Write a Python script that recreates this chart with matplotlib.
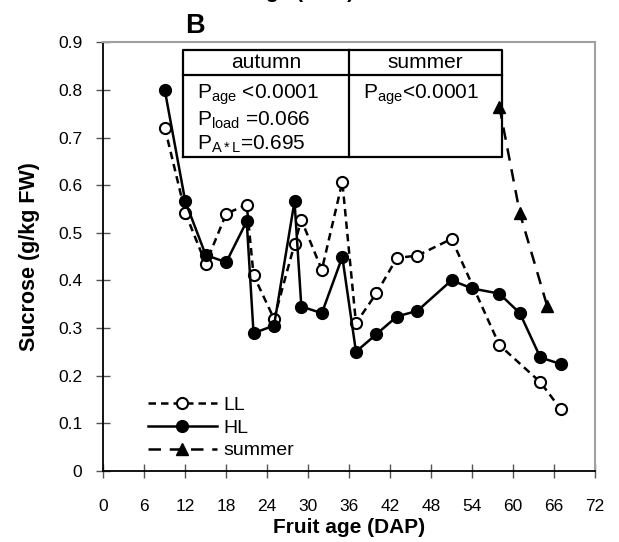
import matplotlib
matplotlib.use("Agg")
import matplotlib.pyplot as plt
from matplotlib.lines import Line2D

plt.rcParams['font.family'] = ['Liberation Sans', 'DejaVu Sans']
plt.rcParams['mathtext.fontset'] = 'custom'
plt.rcParams['mathtext.rm'] = 'Liberation Sans'
plt.rcParams['mathtext.it'] = 'Liberation Sans:italic'
plt.rcParams['mathtext.bf'] = 'Liberation Sans:bold'

# Data
ll_x = [9, 12, 15, 18, 21, 22, 25, 28, 29, 32, 35, 37, 40, 43, 46, 51, 58, 64, 67]
ll_y = [0.721, 0.542, 0.435, 0.540, 0.559, 0.411, 0.319, 0.476, 0.527, 0.422, 0.607,
        0.310, 0.373, 0.447, 0.452, 0.487, 0.264, 0.186, 0.129]
hl_x = [9, 12, 15, 18, 21, 22, 25, 28, 29, 32, 35, 37, 40, 43, 46, 51, 54, 58, 61, 64, 67]
hl_y = [0.800, 0.566, 0.453, 0.438, 0.524, 0.289, 0.305, 0.566, 0.345, 0.331, 0.449,
        0.250, 0.287, 0.324, 0.336, 0.400, 0.383, 0.372, 0.331, 0.238, 0.224]
su_x = [58, 61, 65]
su_y = [0.765, 0.541, 0.346]

x_ticks = list(range(0, 73, 6))
y_ticks = [0, 0.1, 0.2, 0.3, 0.4, 0.5, 0.6, 0.7, 0.8, 0.9]
y_tick_labels = ['0', '0.1', '0.2', '0.3', '0.4', '0.5', '0.6', '0.7', '0.8', '0.9']

fig = plt.figure(figsize=(6.19, 5.42), dpi=100)
ax = fig.add_axes([0.1669, 0.1315, 0.7943, 0.7904])

ax.plot(ll_x, ll_y, linestyle=(0, (3, 2)), color='black', lw=1.8, marker='o',
        markersize=8, markerfacecolor='white', markeredgecolor='black', markeredgewidth=1.5,
        label='LL', zorder=3)
ax.plot(hl_x, hl_y, linestyle='-', color='black', lw=1.8, marker='o',
        markersize=8.5, markerfacecolor='black', markeredgecolor='black',
        label='HL', zorder=4)
ax.plot(su_x, su_y, linestyle=(0, (5, 3.5)), color='black', lw=1.8, marker='^',
        markersize=8.5, markerfacecolor='black', markeredgecolor='black',
        label='summer', zorder=3)

ax.set_xlim(0, 72)
ax.set_ylim(0, 0.9)
ax.set_xticks(x_ticks)
ax.set_xticklabels([str(t) for t in x_ticks])
ax.set_yticks(y_ticks)
ax.set_yticklabels(y_tick_labels)
ax.tick_params(axis='both', direction='inout', length=10, width=1, colors='#555555',
               labelcolor='black', labelsize=12.5)
ax.tick_params(axis='x', pad=15)
ax.tick_params(axis='y', pad=10)

for s in ['top', 'right']:
    ax.spines[s].set_color('#a0a0a0')
    ax.spines[s].set_linewidth(1.5)
for s in ['left', 'bottom']:
    ax.spines[s].set_color('black')
    ax.spines[s].set_linewidth(1.3)

ax.set_xlabel('Fruit age (DAP)', fontsize=15, fontweight='bold', labelpad=3)
ax.set_ylabel('Sucrose (g/kg FW)', fontsize=15.5, fontweight='bold', labelpad=13)

# Panel letter
fig.text(185 / 619, 1 - 33 / 542, 'B', fontsize=19.5, fontweight='bold', ha='left', va='baseline')
# Cut-off label from previous panel (only its lowest part is visible)
fig.text(278 / 619, 1 + 2.5 / 542, 'Fruit age (DAP)', fontsize=15, fontweight='bold',
         ha='center', va='baseline')

# Statistics table
tr = ax.transAxes
x0, xm, x1 = 0.1615, 0.4993, 0.8111
y0, yh, y1 = 0.733, 0.9237, 0.982
lk = dict(color='black', lw=1.6, transform=tr, clip_on=False, zorder=5)
ax.add_line(Line2D([x0, x1, x1, x0, x0], [y0, y0, y1, y1, y0], **lk))
ax.add_line(Line2D([x0, x1], [yh, yh], **lk))
ax.add_line(Line2D([xm, xm], [y0, y1], **lk))
fs = 15
ax.text((x0 + xm) / 2, (yh + y1) / 2, 'autumn', transform=tr, ha='center', va='center', fontsize=fs)
ax.text((xm + x1) / 2, (yh + y1) / 2, 'summer', transform=tr, ha='center', va='center', fontsize=fs)
ax.text(0.191, 0.877, r'P$_\mathregular{age}$ <0.0001', transform=tr, ha='left', va='center', fontsize=fs)
ax.text(0.191, 0.818, r'P$_\mathregular{load}$ =0.066', transform=tr, ha='left', va='center', fontsize=fs)
ax.text(0.191, 0.762, r'P$_\mathregular{A*L}$=0.695', transform=tr, ha='left', va='center', fontsize=fs)
ax.text(0.529, 0.877, r'P$_\mathregular{age}$<0.0001', transform=tr, ha='left', va='center', fontsize=fs)

ax.legend(loc='center left', bbox_to_anchor=(0.09, 0.0997), frameon=False, fontsize=14,
          handlelength=3.55, handletextpad=0.36, labelspacing=0.26, borderaxespad=0,
          borderpad=0)

fig.savefig('out.png', dpi=100)
